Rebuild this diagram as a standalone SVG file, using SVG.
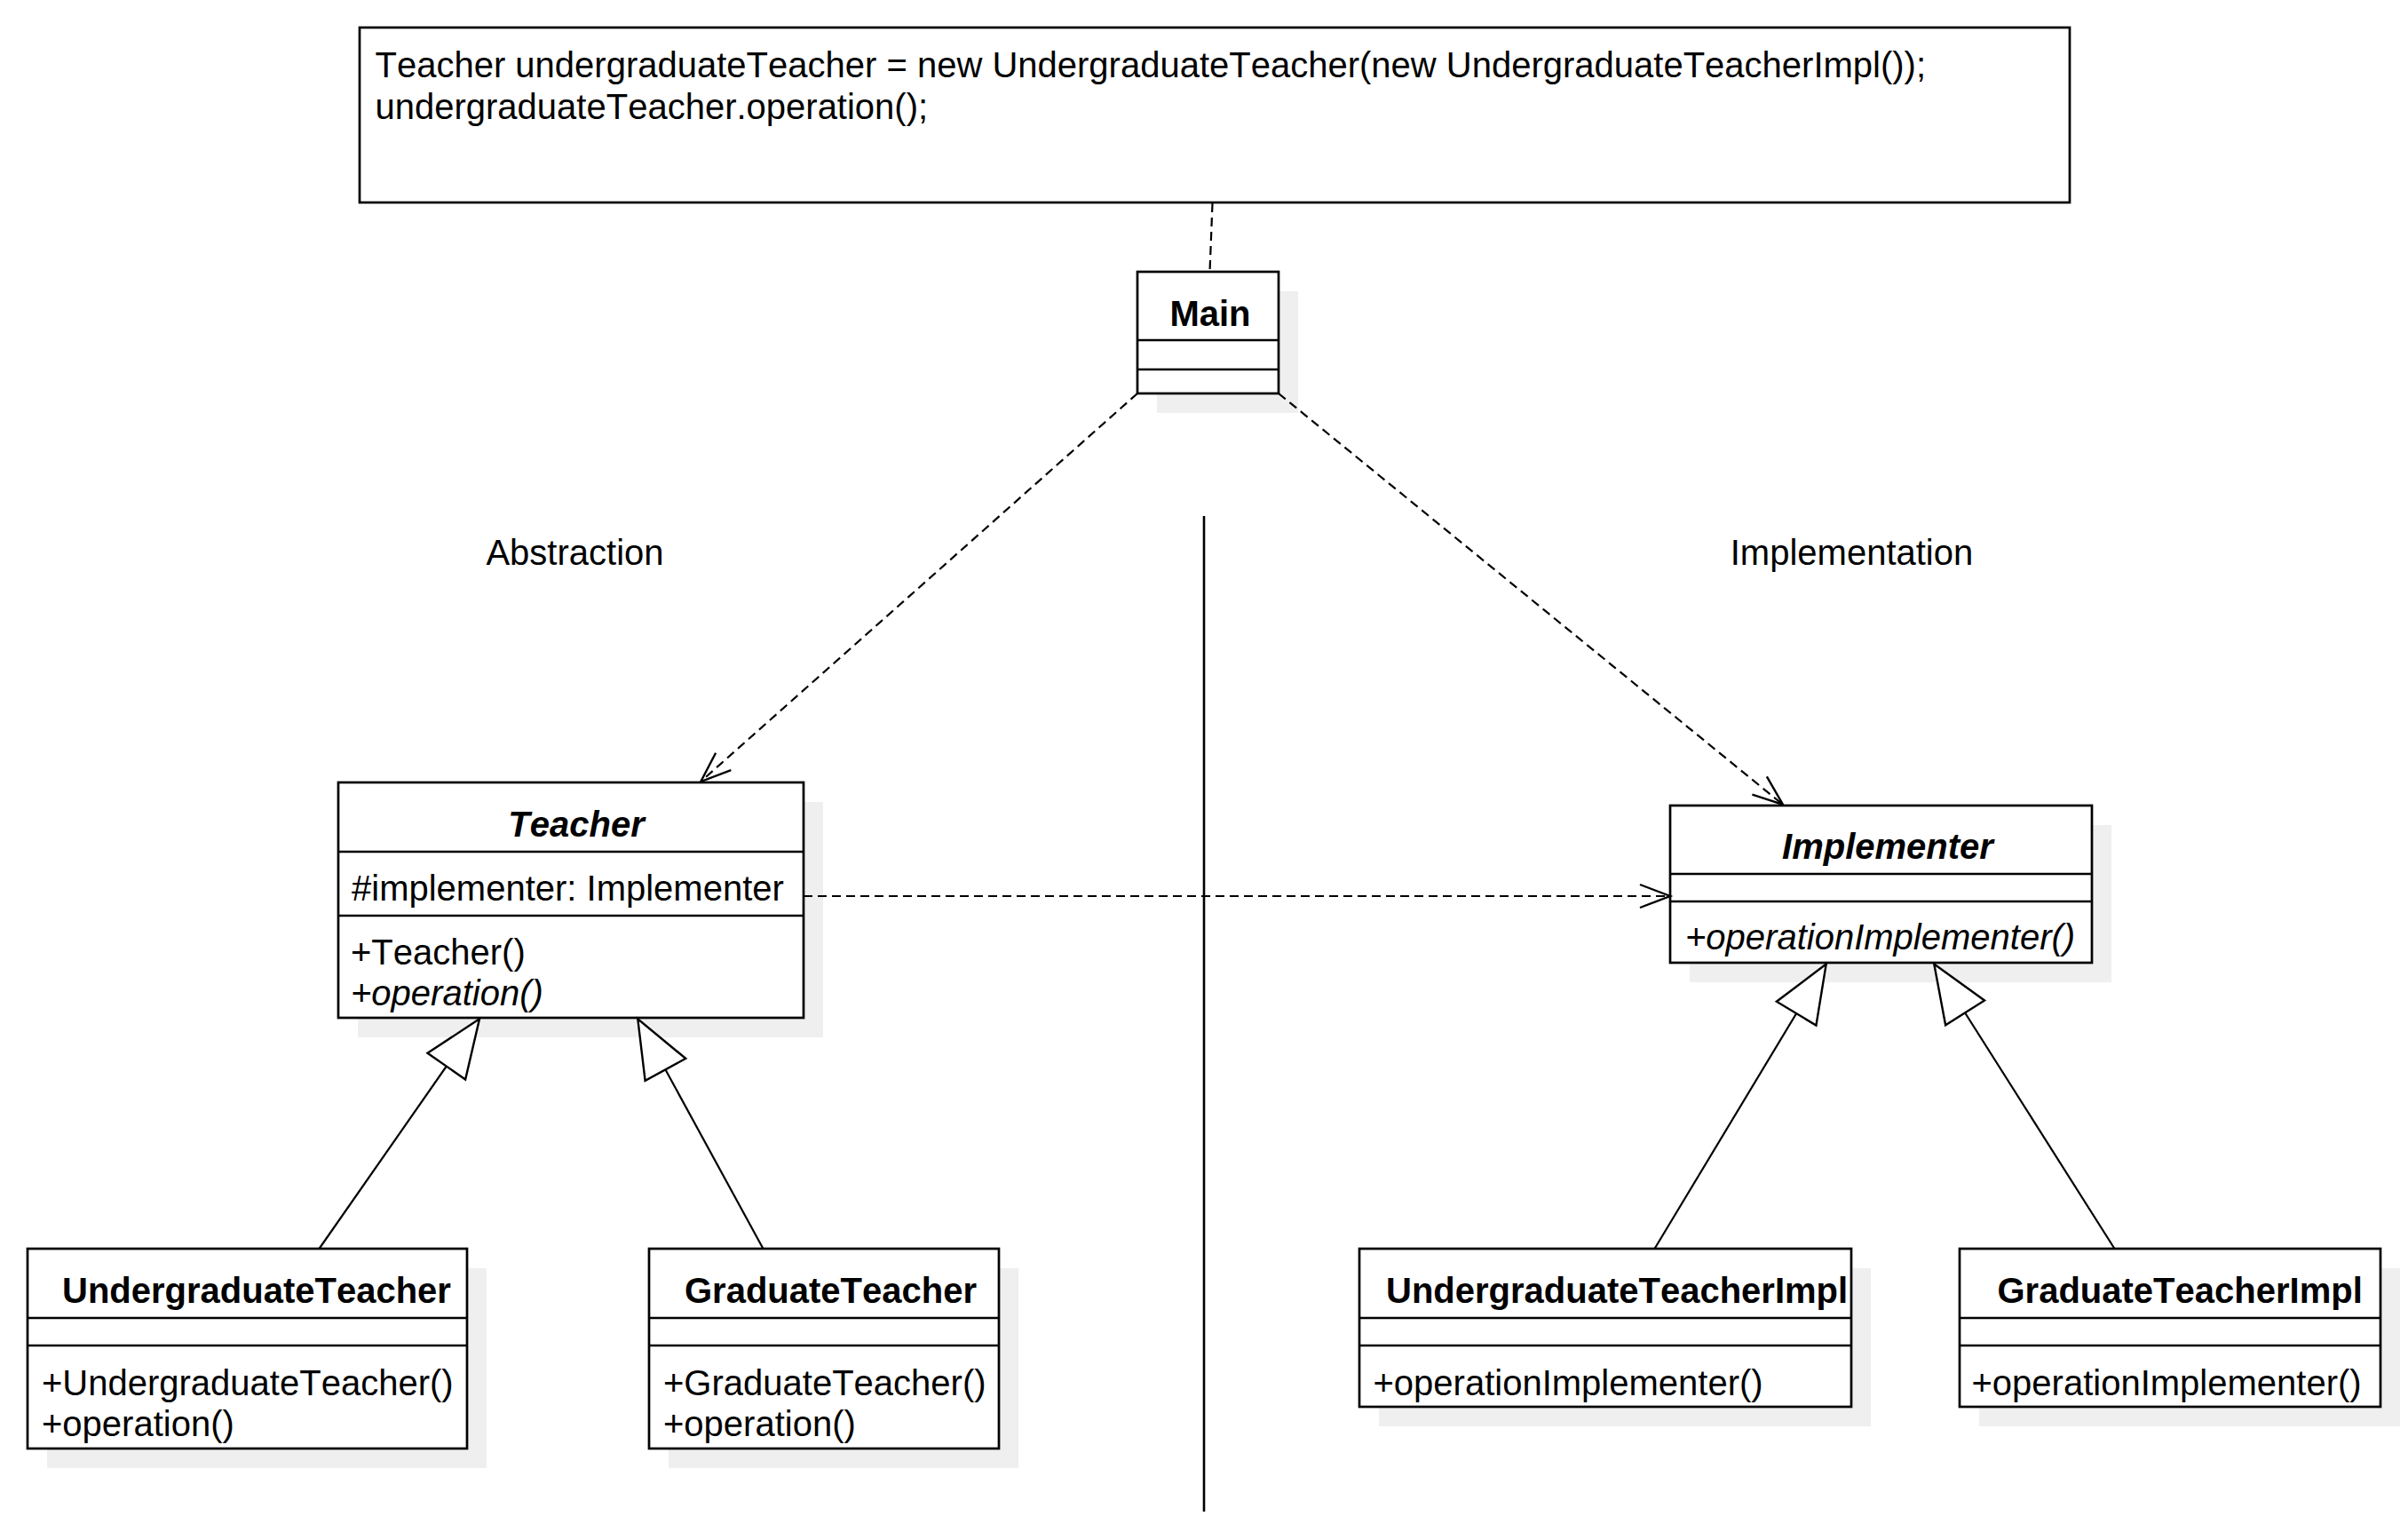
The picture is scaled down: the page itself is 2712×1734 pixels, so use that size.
<svg xmlns="http://www.w3.org/2000/svg" width="2712" height="1734" viewBox="0 0 2712 1734">
<style>
text{font-family:"Liberation Sans",Arial,Helvetica,sans-serif;font-size:40px;fill:#000;font-kerning:none}
.b{font-weight:bold}
.i{font-style:italic}
.bi{font-weight:bold;font-style:italic}
.box{fill:#fff;stroke:#000;stroke-width:2.7}
.sh{fill:#efefef;stroke:none}
.div{stroke:#000;stroke-width:2.7}
.dash{fill:none;stroke:#000;stroke-width:2.2;stroke-dasharray:10 6}
.gen{fill:none;stroke:#000;stroke-width:2.2}
</style>
<defs>
<marker id="open" markerUnits="userSpaceOnUse" markerWidth="80" markerHeight="80" viewBox="-40 -40 80 80" refX="0" refY="0" orient="auto" overflow="visible">
<path d="M-34,-13 L0,0 L-34,13" fill="none" stroke="#000" stroke-width="2.4" stroke-dasharray="none"/>
</marker>
<marker id="tri" markerUnits="userSpaceOnUse" markerWidth="140" markerHeight="140" viewBox="-70 -70 140 140" refX="0" refY="0" orient="auto" overflow="visible">
<path d="M0,0 L-65,-26 L-65,26 Z" fill="#fff" stroke="#000" stroke-width="2.4"/>
</marker>
<clipPath id="clipUTI"><rect x="1531" y="1406" width="554" height="78"/></clipPath>
</defs>

<g id="note">
<rect class="box" x="405" y="31" width="1926" height="197"/>
<text x="422.5" y="87">Teacher undergraduateTeacher = new UndergraduateTeacher(new UndergraduateTeacherImpl());</text>
<text x="422.5" y="134">undergraduateTeacher.operation();</text>
</g>

<g id="labels">
<text x="647.5" y="636" text-anchor="middle">Abstraction</text>
<text x="2085.5" y="636" text-anchor="middle">Implementation</text>
<line x1="1356" y1="581" x2="1356" y2="1702" stroke="#000" stroke-width="2.6"/>
</g>

<g id="Main">
<rect class="sh" x="1303" y="328" width="159" height="137"/>
<rect class="box" x="1281" y="306" width="159" height="137"/>
<line class="div" x1="1281" y1="383" x2="1440" y2="383"/>
<line class="div" x1="1281" y1="416" x2="1440" y2="416"/>
<text class="b" x="1363" y="367" text-anchor="middle">Main</text>
</g>

<g id="Teacher">
<rect class="sh" x="403" y="903" width="524" height="265"/>
<rect class="box" x="381" y="881" width="524" height="265"/>
<line class="div" x1="381" y1="959" x2="905" y2="959"/>
<line class="div" x1="381" y1="1031" x2="905" y2="1031"/>
<text class="bi" x="649" y="942" text-anchor="middle">Teacher</text>
<text x="396" y="1014">#implementer: Implementer</text>
<text x="395" y="1086">+Teacher()</text>
<text class="i" x="395" y="1132">+operation()</text>
</g>

<g id="Implementer">
<rect class="sh" x="1903" y="929" width="475" height="177"/>
<rect class="box" x="1881" y="907" width="475" height="177"/>
<line class="div" x1="1881" y1="984" x2="2356" y2="984"/>
<line class="div" x1="1881" y1="1015" x2="2356" y2="1015"/>
<text class="bi" x="2126" y="967" text-anchor="middle">Implementer</text>
<text class="i" x="1898" y="1069">+operationImplementer()</text>
</g>

<g id="UndergraduateTeacher">
<rect class="sh" x="53" y="1428" width="495" height="225"/>
<rect class="box" x="31" y="1406" width="495" height="225"/>
<line class="div" x1="31" y1="1484" x2="526" y2="1484"/>
<line class="div" x1="31" y1="1515" x2="526" y2="1515"/>
<text class="b" x="70" y="1467">UndergraduateTeacher</text>
<text x="47" y="1571">+UndergraduateTeacher()</text>
<text x="47" y="1617">+operation()</text>
</g>

<g id="GraduateTeacher">
<rect class="sh" x="753" y="1428" width="394" height="225"/>
<rect class="box" x="731" y="1406" width="394" height="225"/>
<line class="div" x1="731" y1="1484" x2="1125" y2="1484"/>
<line class="div" x1="731" y1="1515" x2="1125" y2="1515"/>
<text class="b" x="771" y="1467">GraduateTeacher</text>
<text x="747" y="1571">+GraduateTeacher()</text>
<text x="747" y="1617">+operation()</text>
</g>

<g id="UndergraduateTeacherImpl">
<rect class="sh" x="1553" y="1428" width="554" height="178"/>
<rect class="box" x="1531" y="1406" width="554" height="178"/>
<line class="div" x1="1531" y1="1484" x2="2085" y2="1484"/>
<line class="div" x1="1531" y1="1515" x2="2085" y2="1515"/>
<text class="b" x="1561" y="1467" clip-path="url(#clipUTI)">UndergraduateTeacherImpl</text>
<text x="1546.5" y="1571">+operationImplementer()</text>
</g>

<g id="GraduateTeacherImpl">
<rect class="sh" x="2229" y="1428" width="474" height="178"/>
<rect class="box" x="2207" y="1406" width="474" height="178"/>
<line class="div" x1="2207" y1="1484" x2="2681" y2="1484"/>
<line class="div" x1="2207" y1="1515" x2="2681" y2="1515"/>
<text class="b" x="2249.5" y="1467">GraduateTeacherImpl</text>
<text x="2220.5" y="1571">+operationImplementer()</text>
</g>

<g id="connectors">
<line class="dash" x1="1365.5" y1="229" x2="1362.5" y2="306"/>
<line class="dash" x1="1281" y1="443" x2="789.3" y2="880" marker-end="url(#open)"/>
<line class="dash" x1="1440" y1="443" x2="2008" y2="906" marker-end="url(#open)"/>
<line class="dash" x1="905" y1="1009" x2="1881" y2="1009" marker-end="url(#open)"/>
<line class="gen" x1="359.5" y1="1406" x2="540" y2="1147.3" marker-end="url(#tri)"/>
<line class="gen" x1="859.5" y1="1406" x2="718.3" y2="1147.3" marker-end="url(#tri)"/>
<line class="gen" x1="1863.5" y1="1406" x2="2056.7" y2="1085.5" marker-end="url(#tri)"/>
<line class="gen" x1="2381.5" y1="1406" x2="2178.3" y2="1085.5" marker-end="url(#tri)"/>
</g>
</svg>
